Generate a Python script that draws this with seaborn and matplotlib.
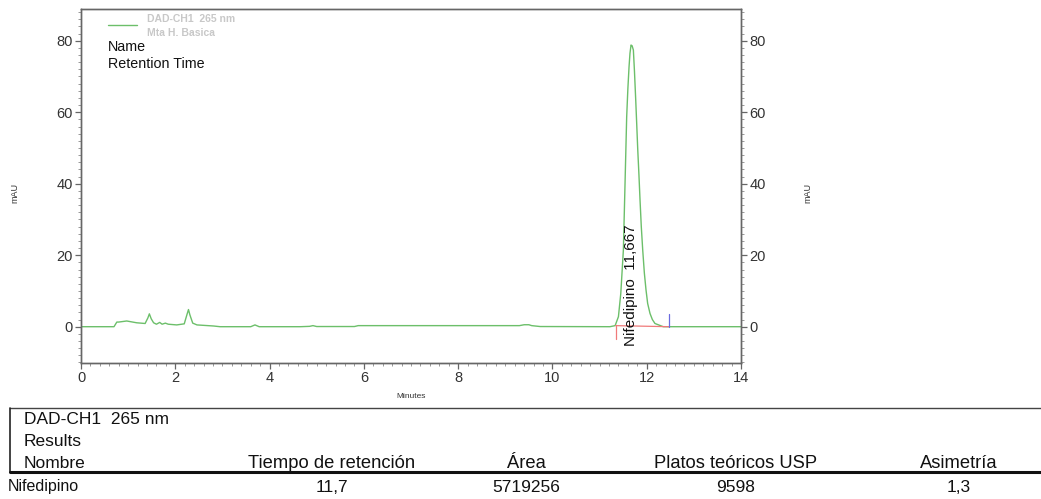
import numpy as np
import pandas as pd
import matplotlib
matplotlib.use('Agg')
import matplotlib.pyplot as plt
import seaborn as sns
from matplotlib.ticker import MultipleLocator
from matplotlib.lines import Line2D

# chromatogram trace (minutes, mAU)
time_min = [0.00, 0.70, 0.76, 0.80, 0.97, 1.18, 1.36, 1.42, 1.45, 1.49, 1.54, 1.60,
            1.67, 1.72, 1.79, 1.85, 2.03, 2.19, 2.25, 2.28, 2.31, 2.37, 2.46, 2.81,
            2.95, 3.60, 3.69, 3.78, 4.65, 4.85, 4.92, 5.00, 5.80, 5.88, 6.06, 9.30,
            9.40, 9.50, 9.56, 9.74, 11.22, 11.33, 11.40, 11.45, 11.505, 11.54, 11.575,
            11.60, 11.625, 11.645, 11.667, 11.69, 11.717, 11.74, 11.767, 11.79, 11.81,
            11.835, 11.858, 11.885, 11.915, 11.95, 11.985, 12.02, 12.07, 12.12,
            12.175, 12.35, 14.00]
signal_mau = [0.0, 0.0, 1.3, 1.3, 1.6, 1.1, 0.9, 2.5, 3.6, 2.2, 1.1, 0.7,
              1.2, 0.7, 1.0, 0.7, 0.5, 0.8, 3.5, 4.8, 3.3, 1.0, 0.5, 0.2,
              0.0, 0.0, 0.5, 0.0, 0.0, 0.1, 0.3, 0.05, 0.05, 0.3, 0.3, 0.3,
              0.55, 0.55, 0.3, 0.05, 0.0, 0.3, 2.8, 9.3, 21.5, 40.0, 58.7,
              66.5, 72.7, 76.5, 78.8, 78.6, 77.4, 71.5, 63.4, 56.0, 49.5,
              42.5, 35.5, 28.0, 21.5, 15.0, 10.3, 6.5, 3.7, 2.0,
              0.9, 0.0, 0.0]

# integration marks
peak_start = (11.34, 0.3)
peak_end = (12.48, 0.0)
peak_label = 'Nifedipino  11,667'

# results table
col_names = ['Nombre', 'Tiempo de retención', 'Área', 'Platos teóricos USP', 'Asimetría']
row_values = ['Nifedipino', '11,7', '5719256', '9598', '1,3']

sns.set_theme(style='white')
plt.rcParams['font.family'] = ['Liberation Sans', 'DejaVu Sans']

W, H = 1041, 499
fig = plt.figure(figsize=(W / 100, H / 100), dpi=100)
ax = fig.add_axes([81 / W, 1 - 362.7 / H, 660 / W, 353.4 / H])

df = pd.DataFrame({'Minutes': time_min, 'mAU': signal_mau})
sns.lineplot(data=df, x='Minutes', y='mAU', ax=ax, color='#6cbf6a', lw=1.0,
             label='_nolegend_')

# baseline + start / end markers
ax.plot([peak_start[0], peak_end[0]], [peak_start[1], peak_end[1]], color='#f07a7a', lw=0.9)
ax.plot([peak_start[0], peak_start[0]], [peak_start[1], -3.4], color='#f07a7a', lw=0.9)
ax.plot([peak_end[0], peak_end[0]], [0, 3.6], color='#6a6ae0', lw=0.9)

ax.set_xlim(0, 14)
ax.set_ylim(-10.07, 88.8)
ax.xaxis.set_major_locator(MultipleLocator(2))
ax.xaxis.set_minor_locator(MultipleLocator(0.2))
ax.yaxis.set_major_locator(MultipleLocator(20))
ax.yaxis.set_minor_locator(MultipleLocator(2))

ax2 = ax.twinx()
ax2.set_ylim(ax.get_ylim())
ax2.yaxis.set_major_locator(MultipleLocator(20))
ax2.yaxis.set_minor_locator(MultipleLocator(2))

for a in (ax, ax2):
    for s in a.spines.values():
        s.set_color('#666666')
        s.set_linewidth(1.0)
    a.tick_params(which='major', length=4, width=0.9, color='#666666',
                  labelsize=10.5, labelcolor='#333333', pad=2)
    a.tick_params(which='minor', length=2, width=0.6, color='#888888')
ax.tick_params(axis='both', which='both', direction='out', bottom=True, left=True)
ax2.tick_params(axis='y', which='both', direction='out', right=True)

ax.set_xlabel('')
ax.set_ylabel('')
fig.text(411 / W, 1 - 397 / H, 'Minutes', fontsize=6, ha='center', va='center', color='#333333')
fig.text(15 / W, 1 - 193 / H, 'mAU', fontsize=6.5, rotation=90, ha='center', va='center', color='#333333')
fig.text(808 / W, 1 - 193 / H, 'mAU', fontsize=6.5, rotation=90, ha='center', va='center', color='#333333')

ax.text(11.667, 11.7, peak_label, rotation=90, fontsize=11, ha='center', va='center', color='#111111')

# legend block
ax.plot([0.58, 1.18], [84.5, 84.5], color='#6cbf6a', lw=1.0)
ax.text(1.39, 86.2, 'DAD-CH1  265 nm', fontsize=7.5, fontweight='bold', color='#c8c8c8', va='center')
ax.text(1.39, 82.3, 'Mta H. Basica', fontsize=7.5, fontweight='bold', color='#c8c8c8', va='center')
ax.text(0.58, 78.2, 'Name', fontsize=10.3, color='#111111', va='center')
ax.text(0.58, 73.4, 'Retention Time', fontsize=10.3, color='#111111', va='center')

# results table
def fx(x):
    return x / W

def fy(y):
    return 1 - y / H

fig.add_artist(Line2D([fx(10), 1], [fy(408), fy(408)], color='#444444', lw=1.0))
fig.add_artist(Line2D([fx(10), fx(10)], [fy(408), fy(472)], color='#222222', lw=1.2))
fig.add_artist(Line2D([fx(10), 1], [fy(472), fy(472)], color='#111111', lw=2.2))

tfs = 13.2
fig.text(fx(24), fy(420), 'DAD-CH1  265 nm', fontsize=12.5, va='center', color='#111111')
fig.text(fx(24), fy(441), 'Results', fontsize=12.5, va='center', color='#111111')
col_x = [24, 332, 526, 736, 959]
fig.text(fx(col_x[0]), fy(463), col_names[0], fontsize=12.5, va='center', color='#111111')
for cx, name in zip(col_x[1:], col_names[1:]):
    fig.text(fx(cx), fy(463), name, fontsize=tfs, ha='center', va='center', color='#111111')
fig.text(fx(8), fy(487), row_values[0], fontsize=11.5, va='center', color='#111111')
for cx, val in zip(col_x[1:], row_values[1:]):
    fig.text(fx(cx), fy(487), val, fontsize=12.5, ha='center', va='center', color='#111111')

fig.savefig('out.png', dpi=100)
